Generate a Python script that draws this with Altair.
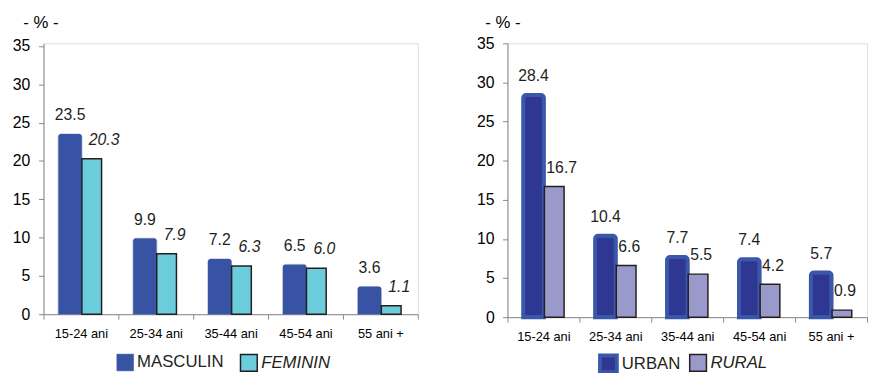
import altair as alt
import pandas as pd

categories = ["15-24 ani", "25-34 ani", "35-44 ani", "45-54 ani", "55 ani +"]
masculin = [23.5, 9.9, 7.2, 6.5, 3.6]
feminin = [20.3, 7.9, 6.3, 6.0, 1.1]
urban = [28.4, 10.4, 7.7, 7.4, 5.7]
rural = [16.7, 6.6, 5.5, 4.2, 0.9]
left_series = ["MASCULIN", "FEMININ"]
right_series = ["URBAN", "RURAL"]
y_ticks = [0, 5, 10, 15, 20, 25, 30, 35]

FONT = "Liberation Sans"
TXT = "#231f20"


def make_df(names, a_vals, b_vals):
    rows = []
    for c, v in zip(categories, a_vals):
        rows.append({"cat": c, "series": names[0], "value": v})
    for c, v in zip(categories, b_vals):
        rows.append({"cat": c, "series": names[1], "value": v})
    return pd.DataFrame(rows)


def legend(x, y, italic, stroke, sw):
    return alt.Legend(
        title=None, orient="none", direction="horizontal",
        legendX=x, legendY=y, symbolType="square", symbolSize=289,
        labelFontSize=17, labelOffset=3, labelColor=TXT, labelFont=FONT,
        labelFontStyle="italic" if italic else "normal",
        symbolStrokeColor=stroke, symbolStrokeWidth=sw, symbolOpacity=1)


def panel(df, names, fills, strokes, widths, bar_w, bar_off, width, height, ydom,
          second_italic, second_dx, legend_xs, legend_y, title_x, label_pad):
    x = alt.X("cat:N", sort=categories,
              scale=alt.Scale(paddingInner=0, paddingOuter=0),
              axis=alt.Axis(title=None, tickBand="extent", labelAngle=0,
                            labelFontSize=13, tickSize=5, labelPadding=9))
    y = alt.Y("value:Q",
              scale=alt.Scale(domain=ydom, nice=False),
              axis=alt.Axis(values=y_ticks, title="- % -", titleAngle=0,
                            titleX=title_x, titleY=-21, titleAlign="center",
                            titleBaseline="middle", titleFontSize=17,
                            titleFontWeight="normal", labelFontSize=16,
                            tickSize=5, labelPadding=label_pad, grid=False))
    base = alt.Chart(df).encode(x=x, y=y)
    da = base.transform_filter(alt.datum.series == names[0])
    db = base.transform_filter(alt.datum.series == names[1])
    fill_a = alt.Fill("series:N", scale=alt.Scale(domain=[names[0]], range=[fills[0]]),
                      legend=legend(legend_xs[0], legend_y, False, strokes[0], widths[0]))
    fill_b = alt.Fill("series:N", scale=alt.Scale(domain=[names[1]], range=[fills[1]]),
                      legend=legend(legend_xs[1], legend_y, True, strokes[1], widths[1]))
    bar_a = da.mark_bar(
        width=bar_w[0], xOffset=bar_off[0],
        stroke=strokes[0], strokeWidth=widths[0], opacity=1,
        cornerRadiusTopLeft=3, cornerRadiusTopRight=3).encode(fill=fill_a)
    bar_b = db.mark_bar(
        width=bar_w[1], xOffset=bar_off[1],
        stroke=strokes[1], strokeWidth=widths[1], opacity=1).encode(fill=fill_b)
    txt_a = da.mark_text(
        align="center", baseline="middle", dx=bar_off[0], dy=-19, fontSize=16,
        font=FONT, color=TXT).encode(text=alt.Text("value:Q", format=".1f"))
    txt_b = db.mark_text(
        align="left", baseline="middle", dx=second_dx, dy=-19, fontSize=16,
        font=FONT, color=TXT,
        fontStyle="italic" if second_italic else "normal").encode(
        text=alt.Text("value:Q", format=".1f"))
    return alt.layer(bar_a, bar_b, txt_a, txt_b).resolve_scale(
        fill="independent").resolve_legend(fill="independent").properties(
        width=width, height=height)


left = panel(make_df(left_series, masculin, feminin), left_series,
             ["#3953a4", "#6bcddb"], ["#3953a4", TXT], [0.5, 1.5],
             [24, 20], [-11, 11], 380, 275, [0, 35.35],
             True, 8, [74, 199], 315, -3, 9)
right = panel(make_df(right_series, urban, rural), right_series,
              ["#2e3792", "#9999cc"], ["#3b57a9", TXT], [4, 1.5],
              [21, 20], [-10, 11], 365, 278, [0, 35],
              False, 3, [92, 184], 315, -5, 8.5)

chart = alt.hconcat(left, right, spacing=58).properties(
    padding={"left": 3, "top": 2, "right": 0, "bottom": 0}
).configure_view(stroke=None).configure_axis(
    domainColor=TXT, tickColor=TXT, domainWidth=1.5, tickWidth=1.5,
    labelColor=TXT, titleColor=TXT, labelFont=FONT, titleFont=FONT
).configure(background="white")

chart.save("out.html", embed_options={"renderer": "svg", "actions": False})
